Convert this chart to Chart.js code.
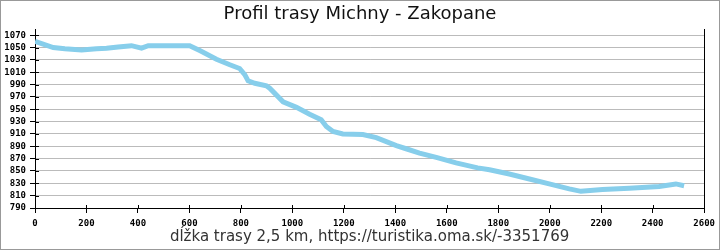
<!DOCTYPE html>
<html>
<head>
<meta charset="utf-8">
<script src="https://cdn.jsdelivr.net/npm/chart.js@4/dist/chart.umd.min.js"></script>
<style>
  html, body { margin: 0; padding: 0; background: #fff; }
  #wrap { width: 720px; height: 250px; }
</style>
</head>
<body>
<div id="wrap"><canvas id="profileCanvas" width="720" height="250"></canvas></div>
<script>
// distance along the route (m) and elevation (m)
let distances = [0, 71, 116, 181, 239, 278, 323, 375, 414, 440, 601, 640, 705, 757, 795, 815, 828, 854, 899, 912, 964, 1016, 1067, 1112, 1132, 1158, 1196, 1274, 1326, 1404, 1442, 1494, 1559, 1636, 1720, 1766, 1843, 1921, 1998, 2076, 2121, 2205, 2309, 2425, 2490, 2522];
let elevations = [1060, 1050, 1048, 1046, 1048, 1049, 1051, 1053, 1049, 1053, 1053, 1045, 1031, 1022, 1016, 1006, 996, 992, 988, 984, 962, 953, 942, 933, 922, 914, 910, 909, 904, 891, 886, 879, 872, 863, 855, 852, 845, 837, 829, 821, 817, 820, 822, 825, 829, 826];

let yTicks = [790, 810, 830, 850, 870, 890, 910, 930, 950, 970, 990, 1010, 1030, 1050, 1070];
let xTicks = [0, 200, 400, 600, 800, 1000, 1200, 1400, 1600, 1800, 2000, 2200, 2400, 2600];

let chartTitle = 'Profil trasy Michny - Zakopane';
let axisTitle = 'dĺžka trasy 2,5 km, https://turistika.oma.sk/-3351769';

let tickFont = { family: 'DejaVu Sans Mono', size: 9, weight: 'bold' };

// plain numbers, no thousands separator
let plainLabel = function (value) { return String(value); };

// inner half of the tick marks + grey frame round the picture
let extrasPlugin = {
  id: 'extras',
  afterDraw: function (chart) {
    let ctx = chart.ctx;
    let xs = chart.scales.x;
    let ys = chart.scales.y;
    ctx.save();
    ctx.strokeStyle = '#000';
    ctx.lineWidth = 1;
    ctx.beginPath();
    ys.ticks.forEach(function (t) {
      let py = Math.round(ys.getPixelForValue(t.value)) + 0.5;
      ctx.moveTo(ys.right, py);
      ctx.lineTo(ys.right + 4, py);
    });
    xs.ticks.forEach(function (t) {
      let px = Math.round(xs.getPixelForValue(t.value)) + 0.5;
      ctx.moveTo(px, xs.top);
      ctx.lineTo(px, xs.top - 3);
    });
    ctx.stroke();

    ctx.strokeStyle = '#999';
    ctx.lineWidth = 2;
    ctx.strokeRect(0, 0, chart.width, chart.height);
    ctx.restore();
  }
};

let profileChart = new Chart(document.getElementById('profileCanvas').getContext('2d'), {
  type: 'line',
  data: {
    datasets: [{
      data: distances.map(function (d, i) { return { x: d, y: elevations[i] }; }),
      borderColor: '#87ceeb',
      borderWidth: 5,
      pointRadius: 0,
      tension: 0,
      fill: false
    }]
  },
  options: {
    responsive: false,
    animation: false,
    layout: { padding: 0 },
    plugins: {
      legend: { display: false },
      tooltip: { enabled: false },
      title: {
        display: true,
        text: chartTitle,
        color: '#111',
        font: { family: 'DejaVu Sans', size: 18, weight: 'normal', lineHeight: 1.2 },
        padding: { top: 4, bottom: 3.4 }
      }
    },
    scales: {
      x: {
        type: 'linear',
        min: 0,
        max: 2600,
        afterBuildTicks: function (scale) {
          scale.ticks = xTicks.map(function (v) { return { value: v }; });
        },
        afterFit: function (scale) { scale.height = 42; },
        grid: { drawOnChartArea: false, tickLength: 5, tickColor: '#000' },
        border: { display: true, color: '#000', width: 1 },
        ticks: { color: '#000', font: tickFont, padding: 5, maxRotation: 0, autoSkip: false, callback: plainLabel },
        title: {
          display: true,
          text: axisTitle,
          color: '#333',
          font: { family: 'DejaVu Sans', size: 15, lineHeight: 1.2 },
          padding: { top: 0, bottom: 4 }
        }
      },
      y: {
        type: 'linear',
        min: 790,
        max: 1080,
        afterBuildTicks: function (scale) {
          scale.ticks = yTicks.map(function (v) { return { value: v }; });
        },
        afterFit: function (scale) { scale.width = 35; },
        grid: {
          color: '#bbb',
          lineWidth: 1,
          tickColor: '#000',
          tickLength: 5,
          tickBorderDash: [],
          borderDash: [3, 3]
        },
        border: { display: true, color: '#000', width: 1, dash: [] },
        ticks: { color: '#000', font: tickFont, padding: 4, autoSkip: false, callback: plainLabel }
      },
      yRight: {
        type: 'linear',
        position: 'right',
        afterFit: function (scale) { scale.width = 15; },
        grid: { display: false, drawTicks: false },
        border: { display: true, color: '#000', width: 1 },
        ticks: { display: false }
      }
    }
  },
  plugins: [extrasPlugin]
});
</script>
</body>
</html>
